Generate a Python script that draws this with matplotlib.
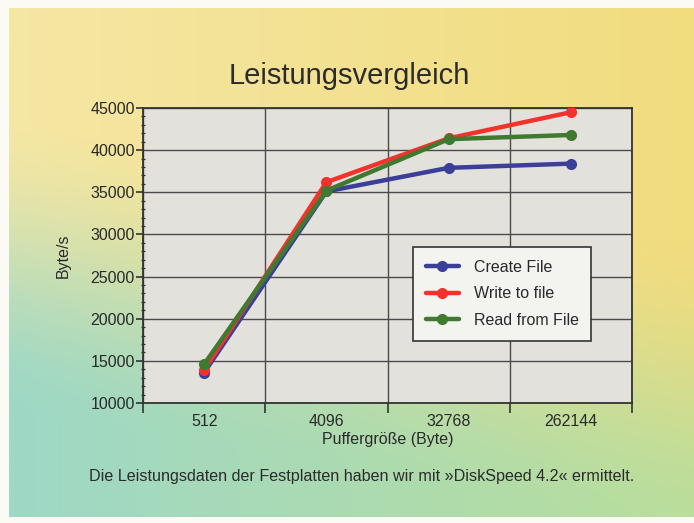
import numpy as np
import matplotlib
matplotlib.use("Agg")
import matplotlib.pyplot as plt
from matplotlib.colors import to_rgb

plt.rcParams['font.family'] = ['Liberation Sans', 'DejaVu Sans']

# buffer sizes and measured throughput (Byte/s)
buffer_sizes = ["512", "4096", "32768", "262144"]
create_file = [13600, 35100, 37900, 38400]
write_file = [13900, 36200, 41400, 44500]
read_file = [14600, 35200, 41300, 41800]

series = [
    ("Create File", create_file, "#3b3f98"),
    ("Write to file", write_file, "#f2322b"),
    ("Read from File", read_file, "#3f7a30"),
]

W, H = 694, 523
fig = plt.figure(figsize=(W / 100, H / 100), dpi=100)
fig.patch.set_facecolor("#fbfaf4")

# background panel: yellow at the top, fading into cyan/green towards the bottom
bg = fig.add_axes([9 / W, 6 / H, (W - 9) / W, (517 - 8) / H], zorder=-10)
nx, ny = 200, 160
xf = np.linspace(0, 1, nx)[None, :]
yf = np.linspace(0, 1, ny)[:, None]
top_l, top_r = np.array(to_rgb("#f5e7a4")), np.array(to_rgb("#f1dc7e"))
bot_l, bot_r = np.array(to_rgb("#9ed8c6")), np.array(to_rgb("#b9de9c"))
top = top_l * (1 - xf[..., None]) + top_r * xf[..., None]
bot = bot_l * (1 - xf[..., None]) + bot_r * xf[..., None]
w = np.clip((yf - 0.2 - 0.25 * xf) / 0.6, 0, 1)
w = (w * w * (3 - 2 * w))[..., None]
img = top * (1 - w) + bot * w
bg.imshow(img, aspect="auto", extent=[0, 1, 1, 0], interpolation="bilinear")
bg.set_axis_off()

ax = fig.add_axes([143 / W, (H - 403) / H, (632 - 143) / W, (403 - 108) / H])
ax.set_facecolor("#e2e1dc")

x = np.arange(len(buffer_sizes))
for name, vals, col in series:
    ax.plot(x, vals, color=col, lw=3.2, marker="o", ms=7, label=name,
            solid_capstyle="round", zorder=3)

ax.set_xlim(-0.5, len(buffer_sizes) - 0.5)
ax.set_ylim(10000, 45000)

# category boundaries carry the ticks and grid, centres carry the labels
ax.set_xticks(np.arange(len(buffer_sizes) + 1) - 0.5)
ax.set_xticklabels([])
ax.set_xticks(x, minor=True)
ax.set_xticklabels(buffer_sizes, minor=True)
ax.tick_params(axis="x", which="major", length=7, width=1.2, color="#333333", direction="out")
ax.tick_params(axis="x", which="minor", length=0, labelsize=11.5, labelcolor="#2a2a2a", pad=8)

ax.set_yticks(np.arange(10000, 45001, 5000))
ax.set_yticks(np.arange(10000, 45001, 1000), minor=True)
ax.tick_params(axis="y", which="major", length=5, width=1.2, color="#333333",
               labelsize=11.5, labelcolor="#2a2a2a", pad=1)
ax.tick_params(axis="y", which="minor", length=3, width=0.9, color="#333333", direction="inout")

ax.grid(True, which="major", color="#4a4a4a", lw=1.0)
ax.set_axisbelow(True)
for s in ax.spines.values():
    s.set_color("#333333")
    s.set_linewidth(1.3)

ax.set_ylabel("Byte/s", fontsize=11.5, color="#2a2a2a", labelpad=14)
ax.set_xlabel("Puffergröße (Byte)", fontsize=11.5, color="#2a2a2a", labelpad=2)

leg = ax.legend(loc="upper left", bbox_to_anchor=(0.552, 0.529), fontsize=11.5,
                frameon=True, fancybox=False, framealpha=1, edgecolor="#333333",
                facecolor="#f3f3ef", borderpad=0.8, labelspacing=0.72,
                handlelength=2.1, handletextpad=0.9, borderaxespad=0)
leg.get_frame().set_linewidth(1.2)
for t in leg.get_texts():
    t.set_color("#2a2a2a")

fig.text(349 / W, 1 - 76 / H, "Leistungsvergleich", fontsize=21, color="#2b2b2b",
         ha="center", va="center")
fig.text(362 / W, 1 - 476 / H,
         "Die Leistungsdaten der Festplatten haben wir mit »DiskSpeed 4.2« ermittelt.",
         fontsize=11.6, color="#2b2b2b", ha="center", va="center")

fig.savefig("out.png", dpi=100, facecolor=fig.get_facecolor())
